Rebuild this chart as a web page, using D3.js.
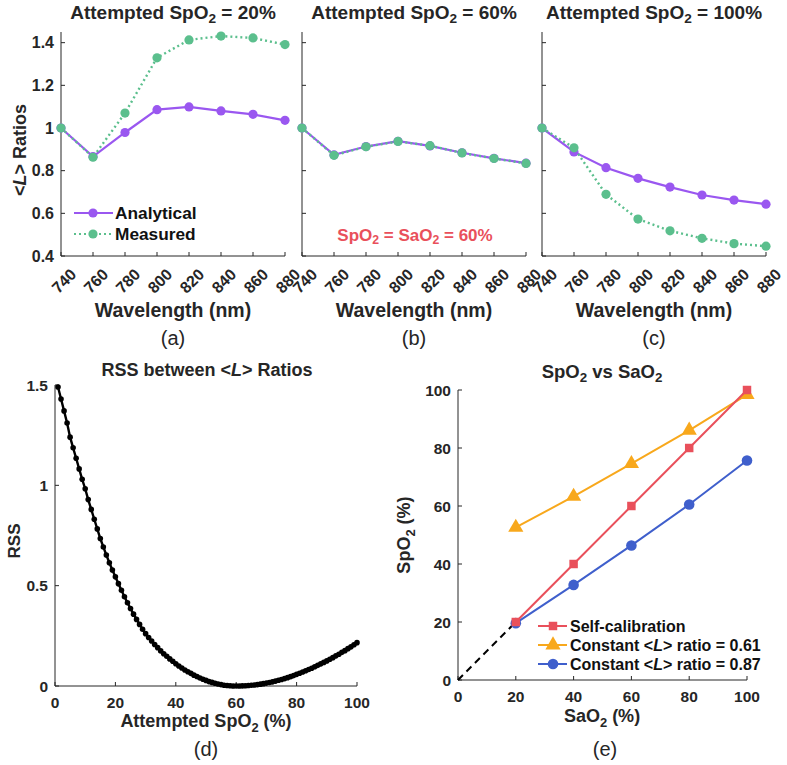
<!DOCTYPE html>
<html><head><meta charset="utf-8">
<script src="https://cdn.jsdelivr.net/npm/d3@7"></script>
<style>
body{margin:0;background:#fff;}
svg{font-family:"Liberation Sans",Arial,sans-serif;}
</style></head>
<body><svg id="c" width="787" height="765"></svg>
<script>
// ---------- data ----------
const wavelengths = [740,760,780,800,820,840,860,880];
const analytical20 = [1,0.866,0.979,1.086,1.099,1.080,1.064,1.036];
const measured20   = [1,0.863,1.070,1.329,1.413,1.431,1.422,1.391];
const analytical60 = [1,0.874,0.913,0.938,0.916,0.884,0.858,0.835];
const measured60   = [1,0.872,0.912,0.937,0.917,0.883,0.857,0.834];
const analytical100= [1,0.888,0.814,0.764,0.723,0.686,0.662,0.643];
const measured100  = [1,0.907,0.689,0.573,0.518,0.483,0.458,0.446];
const ratioTicks = [0.4,0.6,0.8,1,1.2,1.4];

const attemptedSpO2 = d3.range(1,101);
const rss = [1.490,1.430,1.371,1.311,1.240,1.187,1.135,1.082,1.030,0.983,
0.929,0.880,0.831,0.783,0.735,0.693,0.653,0.614,0.578,0.544,
0.510,0.477,0.445,0.415,0.386,0.358,0.332,0.307,0.283,0.261,
0.242,0.224,0.207,0.191,0.175,0.161,0.148,0.135,0.123,0.111,
0.100,0.090,0.080,0.071,0.063,0.054,0.047,0.040,0.034,0.028,
0.022,0.018,0.014,0.010,0.007,0.004,0.0025,0.001,0.0003,0,
0.0001,0.0006,0.0013,0.0023,0.0036,0.0052,0.0071,0.0093,0.0117,0.0145,
0.0175,0.0208,0.0244,0.0283,0.0324,0.0369,0.0416,0.0466,0.0518,0.058,
0.0635,0.0697,0.0757,0.0824,0.0888,0.0960,0.1028,0.1105,0.1177,0.125,
0.1336,0.1413,0.1503,0.1584,0.1678,0.1762,0.1862,0.1950,0.2053,0.216];
const rssXTicks = [0,20,40,60,80,100];
const rssYTicks = [0,0.5,1,1.5];

const sao2 = [20,40,60,80,100];
const selfCal = [20,40,60,80,100];
const const061 = [52.6,63.3,74.6,86.1,98.4];
const const087 = [19.6,32.8,46.4,60.5,75.7];
const eTicks = [0,20,40,60,80,100];

// ---------- styles ----------
const PURPLE="#9a57f0", GREEN="#5bbf8d", RED="#e9505b", ORANGE="#f8a81c", BLUE="#3f5fcc", AX="#262626", TXT="#262626";

const svg = d3.select("#c");

function richText(g, x, y, parts, opts){
  const t = g.append("text").attr("x",x).attr("y",y)
    .attr("font-size",opts.size).attr("font-weight",opts.weight||"bold")
    .attr("fill",opts.fill||TXT).attr("text-anchor",opts.anchor||"middle")
    .attr("dominant-baseline","central");
  if(opts.rotate) t.attr("transform",`rotate(${opts.rotate},${x},${y})`);
  const shift = opts.size*0.32;
  let down = false;
  parts.forEach(p=>{
    let s;
    const isObj = (typeof p === "object");
    if(!isObj){ s=t.append("tspan").text(p); if(down){ s.attr("dy",-shift); down=false; } }
    else if(p.sub!==undefined){ s=t.append("tspan").attr("font-size",opts.size*0.72).text(p.sub); s.attr("dy",shift); down=true; }
    else { s=t.append("tspan").attr("font-style","italic").text(p.it); if(down){ s.attr("dy",-shift); down=false; } }
  });
  return t;
}

function inwardAxes(g, xs, ys, xTicks, yTicks, showY, yFmt, fs){
  const [x0,x1]=xs.range(), [y0,y1]=ys.range();
  g.append("line").attr("x1",x0).attr("x2",x0).attr("y1",y0).attr("y2",y1).attr("stroke",AX).attr("stroke-width",1);
  g.append("line").attr("x1",x0).attr("x2",x1).attr("y1",y0).attr("y2",y0).attr("stroke",AX).attr("stroke-width",1);
  xTicks.forEach(v=>g.append("line").attr("x1",xs(v)).attr("x2",xs(v)).attr("y1",y0).attr("y2",y0-4).attr("stroke",AX));
  yTicks.forEach(v=>g.append("line").attr("x1",x0).attr("x2",x0+4).attr("y1",ys(v)).attr("y2",ys(v)).attr("stroke",AX));
  if(showY){
    yTicks.forEach(v=>g.append("text").attr("x",x0-7).attr("y",ys(v)).attr("text-anchor","end")
      .attr("dominant-baseline","central").attr("font-size",fs).attr("font-weight","bold").attr("fill",TXT).text(yFmt(v)));
  }
}

// ---------- top panels ----------
const topPanels = [
  {x0:61, x1:285, a:analytical20, m:measured20, title:["Attempted SpO",{sub:"2"}," = 20%"], lab:"(a)", showY:true},
  {x0:302,x1:526, a:analytical60, m:measured60, title:["Attempted SpO",{sub:"2"}," = 60%"], lab:"(b)", showY:false},
  {x0:542,x1:766, a:analytical100,m:measured100,title:["Attempted SpO",{sub:"2"}," = 100%"],lab:"(c)", showY:false}
];
topPanels.forEach((p,i)=>{
  const g = svg.append("g");
  const xs = d3.scaleLinear().domain([740,880]).range([p.x0,p.x1]);
  const ys = d3.scaleLinear().domain([0.4,1.45]).range([256,32]);
  inwardAxes(g, xs, ys, wavelengths, ratioTicks, p.showY, v=>d3.format("~g")(v), 16);
  wavelengths.forEach(v=>{
    const cx = xs(v)+3, cy=281;
    g.append("text").attr("x",cx).attr("y",cy).attr("text-anchor","middle").attr("dominant-baseline","central")
      .attr("transform",`rotate(-45,${cx},${cy})`).attr("font-size",16).attr("font-weight","bold").attr("fill",TXT).text(v);
  });
  const line = d3.line().x((d,j)=>xs(wavelengths[j])).y(d=>ys(d));
  g.append("path").datum(p.a).attr("d",line).attr("fill","none").attr("stroke",PURPLE).attr("stroke-width",2.2);
  g.selectAll(null).data(p.a).enter().append("circle").attr("cx",(d,j)=>xs(wavelengths[j])).attr("cy",d=>ys(d)).attr("r",4.6).attr("fill",PURPLE);
  g.append("path").datum(p.m).attr("d",line).attr("fill","none").attr("stroke",GREEN).attr("stroke-width",2.4).attr("stroke-dasharray","2,3");
  g.selectAll(null).data(p.m).enter().append("circle").attr("cx",(d,j)=>xs(wavelengths[j])).attr("cy",d=>ys(d)).attr("r",4.6).attr("fill",GREEN);
  const cx=(p.x0+p.x1)/2;
  richText(g, cx, 12, p.title, {size:19});
  richText(g, cx, 310, ["Wavelength (nm)"], {size:19.5});
  richText(g, cx, 338, [p.lab], {size:20, weight:"normal"});
  if(i===0){
    richText(g, 20, 150, ["<",{it:"L"},"> Ratios"], {size:18, rotate:-90});
    [[PURPLE,null,"Analytical",213],[GREEN,"2,3","Measured",234]].forEach(([c,da,t,y])=>{
      const l=g.append("line").attr("x1",74).attr("x2",113).attr("y1",y).attr("y2",y).attr("stroke",c).attr("stroke-width",2.2);
      if(da) l.attr("stroke-dasharray",da);
      g.append("circle").attr("cx",93).attr("cy",y).attr("r",4.6).attr("fill",c);
      g.append("text").attr("x",115).attr("y",y).attr("dominant-baseline","central").attr("font-size",17.3).attr("font-weight","bold").attr("fill","#111").text(t);
    });
  }
  if(i===1){
    richText(g, 415, 235, ["SpO",{sub:"2"}," = SaO",{sub:"2"}," = 60%"], {size:17, fill:RED});
  }
});

// ---------- panel d ----------
(function(){
  const g = svg.append("g");
  const xs = d3.scaleLinear().domain([0,100]).range([55,357]);
  const ys = d3.scaleLinear().domain([0,1.5]).range([686,385]);
  inwardAxes(g, xs, ys, rssXTicks, rssYTicks, true, v=>d3.format("~g")(v), 15.5);
  rssXTicks.forEach(v=>g.append("text").attr("x",xs(v)).attr("y",702).attr("text-anchor","middle").attr("dominant-baseline","central")
    .attr("font-size",15.5).attr("font-weight","bold").attr("fill",TXT).text(v));
  const line = d3.line().x((d,j)=>xs(attemptedSpO2[j])).y(d=>ys(d));
  g.append("path").datum(rss).attr("d",line).attr("fill","none").attr("stroke","#000").attr("stroke-width",2.4);
  g.selectAll(null).data(rss).enter().append("circle").attr("cx",(d,j)=>xs(attemptedSpO2[j])).attr("cy",d=>ys(d)).attr("r",2.8).attr("fill","#000");
  richText(g, 207, 370, ["RSS between <",{it:"L"},"> Ratios"], {size:18});
  richText(g, 14, 541, ["RSS"], {size:17, rotate:-90});
  richText(g, 206, 721, ["Attempted SpO",{sub:"2"}," (%)"], {size:18});
  richText(g, 206, 749, ["(d)"], {size:20, weight:"normal"});
})();

// ---------- panel e ----------
(function(){
  const g = svg.append("g");
  const xs = d3.scaleLinear().domain([0,100]).range([458,747]);
  const ys = d3.scaleLinear().domain([0,100]).range([680,390]);
  inwardAxes(g, xs, ys, eTicks, eTicks, true, v=>v, 15.5);
  eTicks.forEach(v=>g.append("text").attr("x",xs(v)).attr("y",696).attr("text-anchor","middle").attr("dominant-baseline","central")
    .attr("font-size",15.5).attr("font-weight","bold").attr("fill",TXT).text(v));
  g.append("line").attr("x1",xs(0)).attr("y1",ys(0)).attr("x2",xs(20)).attr("y2",ys(20)).attr("stroke","#000").attr("stroke-width",2).attr("stroke-dasharray","7,5");
  const line = d3.line().x((d,j)=>xs(sao2[j])).y(d=>ys(d));
  const tri = d3.symbol().type(d3.symbolTriangle).size(100);
  const sq = d3.symbol().type(d3.symbolSquare).size(72);
  g.append("path").datum(const087).attr("d",line).attr("fill","none").attr("stroke",BLUE).attr("stroke-width",2);
  g.selectAll(null).data(const087).enter().append("circle").attr("cx",(d,j)=>xs(sao2[j])).attr("cy",d=>ys(d)).attr("r",5.3).attr("fill",BLUE);
  g.append("path").datum(const061).attr("d",line).attr("fill","none").attr("stroke",ORANGE).attr("stroke-width",2);
  g.selectAll(null).data(const061).enter().append("path").attr("d",tri).attr("transform",(d,j)=>`translate(${xs(sao2[j])},${ys(d)})`).attr("fill",ORANGE);
  g.append("path").datum(selfCal).attr("d",line).attr("fill","none").attr("stroke",RED).attr("stroke-width",2);
  g.selectAll(null).data(selfCal).enter().append("path").attr("d",sq).attr("transform",(d,j)=>`translate(${xs(sao2[j])},${ys(d)})`).attr("fill",RED);

  richText(g, 602, 371, ["SpO",{sub:"2"}," vs SaO",{sub:"2"}], {size:18.5});
  richText(g, 404, 535, ["SpO",{sub:"2"}," (%)"], {size:18, rotate:-90});
  richText(g, 602, 716, ["SaO",{sub:"2"}," (%)"], {size:18});
  richText(g, 605, 749, ["(e)"], {size:20, weight:"normal"});
  const leg = [
    [RED,"sq",["Self-calibration"],626],
    [ORANGE,"tri",["Constant <",{it:"L"},"> ratio = 0.61"],645],
    [BLUE,"circ",["Constant <",{it:"L"},"> ratio = 0.87"],664]];
  leg.forEach(([c,m,t,y])=>{
    g.append("line").attr("x1",538).attr("x2",567).attr("y1",y).attr("y2",y).attr("stroke",c).attr("stroke-width",2);
    if(m==="sq") g.append("path").attr("d",sq).attr("transform",`translate(553,${y})`).attr("fill",c);
    else if(m==="tri") g.append("path").attr("d",tri).attr("transform",`translate(553,${y})`).attr("fill",c);
    else g.append("circle").attr("cx",553).attr("cy",y).attr("r",5.3).attr("fill",c);
    richText(g, 570, y, t, {size:16, anchor:"start", fill:"#111"});
  });
})();
</script></body></html>
